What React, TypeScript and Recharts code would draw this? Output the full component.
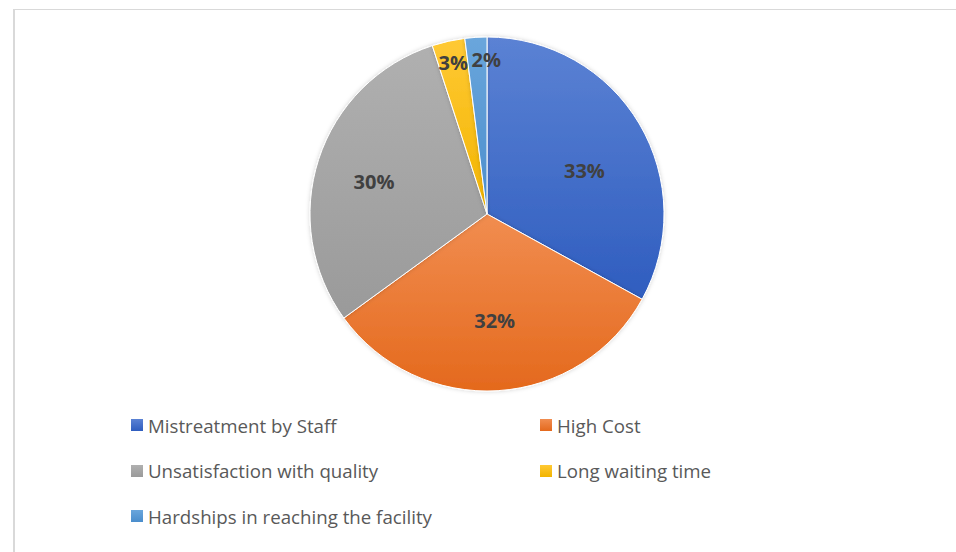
import { Cell, Legend, Pie, PieChart } from "recharts"

const categories = [
  "Mistreatment by Staff",
  "High Cost",
  "Unsatisfaction with quality",
  "Long waiting time",
  "Hardships in reaching the facility",
]
const shares = [33, 32, 30, 3, 2]

// light / dark ends of each slice's gradient
const lightColors = ["#5b82d4", "#f18d50", "#b0b0b0", "#ffc934", "#6aa6dc"]
const darkColors = ["#2f5dbf", "#e4691d", "#9a9a9a", "#f2b400", "#4a8dcc"]

const data = categories.map((name, i) => ({ name, value: shares[i] }))

const RADIAN = Math.PI / 180

// Excel's "best fit" moves a few labels off the exact mid-angle
const labelNudge: [number, number][] = [[6, 11], [1, 1], [-12, 0], [0, 0], [9, 0]]

const renderLabel = (props: any) => {
  const { cx, cy, midAngle, outerRadius, percent, index } = props
  const small = percent < 0.05
  const r = outerRadius * (small ? 0.875 : 0.6)
  const x = cx + r * Math.cos(-midAngle * RADIAN) + labelNudge[index][0]
  const y = cy + r * Math.sin(-midAngle * RADIAN) + labelNudge[index][1]
  return (
    <text
      x={x}
      y={y}
      fill="#404040"
      textAnchor="middle"
      dominantBaseline="central"
      fontSize={20}
      fontWeight={700}
      fontFamily="'Open Sans', sans-serif"
    >
      {`${Math.round(percent * 100)}%`}
    </text>
  )
}

const colX = [131, 540]
const rowY = [15, 60.5, 106]

const renderLegend = () => (
  <div style={{ position: "relative", width: 956, height: 130 }}>
    {categories.map((name, i) => (
      <div
        key={name}
        style={{
          position: "absolute",
          left: colX[i % 2],
          top: rowY[Math.floor(i / 2)] - 13,
          height: 26,
          display: "flex",
          alignItems: "center",
          fontFamily: "'Open Sans', sans-serif",
          fontSize: 18.7,
          color: "#595959",
          whiteSpace: "nowrap",
        }}
      >
        <span
          style={{
            display: "inline-block",
            width: 12,
            height: 12,
            marginRight: 5,
            background: `linear-gradient(${lightColors[i]}, ${darkColors[i]})`,
          }}
        />
        {name}
      </div>
    ))}
  </div>
)

export default function App() {
  return (
    <div
      style={{
        position: "fixed",
        left: 0,
        top: 0,
        width: 956,
        height: 552,
        overflow: "hidden",
        background: "#fff",
      }}
    >
      <div
        style={{
          position: "absolute",
          left: 13,
          top: 9,
          width: 980,
          height: 580,
          borderLeft: "2px solid #d9d9d9",
          borderTop: "1px solid #d9d9d9",
        }}
      />
      <div style={{ position: "absolute", left: 0, top: 0 }}>
        <PieChart width={956} height={552} margin={{ top: 0, right: 0, bottom: 0, left: 0 }}>
          <defs>
            {categories.map((_, i) => (
              <linearGradient key={i} id={`grad${i}`} x1="0" y1="0" x2="0" y2="1">
                <stop offset="0%" stopColor={lightColors[i]} />
                <stop offset="100%" stopColor={darkColors[i]} />
              </linearGradient>
            ))}
            <filter id="pieShadow" x="-10%" y="-10%" width="120%" height="120%">
              <feDropShadow dx="0" dy="0" stdDeviation="2" floodColor="#000" floodOpacity="0.18" />
            </filter>
          </defs>
          <Pie
            data={data}
            dataKey="value"
            nameKey="name"
            cx={487}
            cy={214}
            outerRadius={177}
            startAngle={90}
            endAngle={-270}
            stroke="#ffffff"
            strokeWidth={1}
            label={renderLabel}
            labelLine={false}
            isAnimationActive={false}
            style={{ filter: "url(#pieShadow)" }}
          >
            {data.map((d, i) => (
              <Cell key={d.name} fill={`url(#grad${i})`} />
            ))}
          </Pie>
          <Legend
            content={renderLegend}
            wrapperStyle={{ position: "absolute", left: 0, top: 410, width: 956 }}
          />
        </PieChart>
      </div>
    </div>
  )
}
